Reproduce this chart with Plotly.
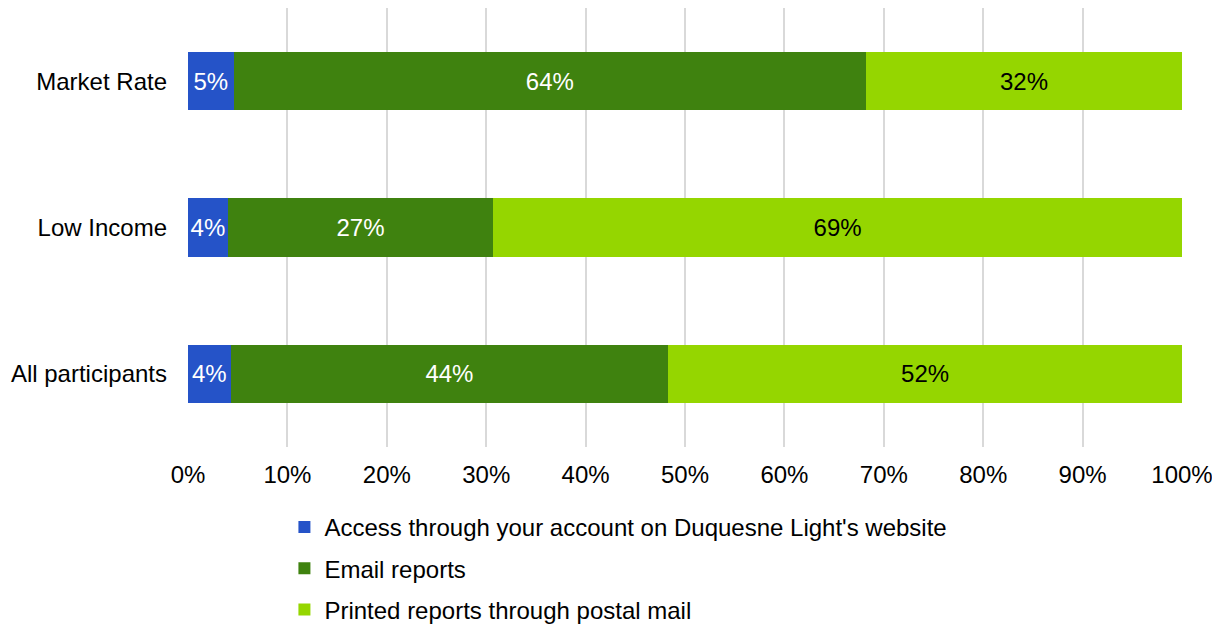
import plotly.graph_objects as go

categories = ["All participants", "Low Income", "Market Rate"]
series_names = [
    "Access through your account on Duquesne Light's website",
    "Email reports",
    "Printed reports through postal mail",
]
website = [4.3, 4.0, 4.6]
email = [44.0, 26.7, 63.6]
postal = [51.7, 69.3, 31.8]
x_ticks = [0, 10, 20, 30, 40, 50, 60, 70, 80, 90, 100]
x_tick_labels = [f"{v}%" for v in x_ticks]

colors = ["#2553C8", "#3F820F", "#95D600"]
text_colors = ["white", "white", "black"]
FONT = "Liberation Sans, Arial"
FS = 24

fig = go.Figure()
for i, (name, vals) in enumerate(zip(series_names, [website, email, postal])):
    fig.add_trace(go.Bar(
        y=categories, x=vals, name=name, orientation="h",
        marker=dict(color=colors[i], line=dict(width=0)),
        texttemplate="%{x:.0f}%", textposition="inside",
        insidetextanchor="middle", textangle=0,
        textfont=dict(color=text_colors[i], size=FS, family=FONT),
        legendgroup=f"g{i}",
        hoverinfo="skip",
    ))

fig.update_layout(
    width=1212, height=619,
    barmode="stack", bargap=0.6,
    plot_bgcolor="white", paper_bgcolor="white",
    margin=dict(l=180, r=38, t=0, b=180, autoexpand=False),
    font=dict(family=FONT, size=FS, color="#000000"),
    uniformtext=dict(minsize=FS, mode="show"),
    showlegend=True,
    legend=dict(orientation="v", x=0.097, y=-0.132, xanchor="left", yanchor="top",
                tracegroupgap=7, font=dict(size=FS), itemwidth=30,
                traceorder="grouped"),
    xaxis=dict(range=[0, 100], tickmode="array", tickvals=x_ticks, ticktext=x_tick_labels,
               showgrid=True, gridcolor="#D9D9D9", gridwidth=1.5,
               zeroline=False, showline=False, ticks="", ticklabelstandoff=11,
               tickfont=dict(size=FS)),
    yaxis=dict(categoryorder="array", categoryarray=categories,
               showgrid=False, zeroline=False, showline=False, ticks="",
               ticklabelstandoff=20, tickfont=dict(size=FS)),
)

fig.write_html("out.html")
